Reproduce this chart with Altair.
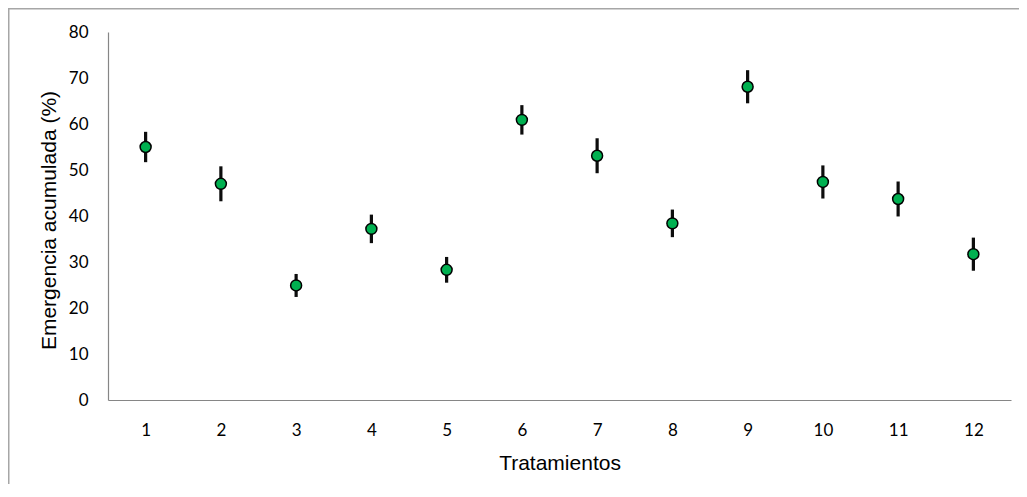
import altair as alt
import pandas as pd

tratamientos = ["1", "2", "3", "4", "5", "6", "7", "8", "9", "10", "11", "12"]
emergencia = [55.0, 47.0, 24.9, 37.2, 28.3, 60.9, 53.1, 38.4, 68.1, 47.4, 43.7, 31.7]
error = [3.3, 3.8, 2.5, 3.1, 2.8, 3.2, 3.8, 3.0, 3.6, 3.6, 3.8, 3.6]
y_ticks = [0, 10, 20, 30, 40, 50, 60, 70, 80]

df = pd.DataFrame({"trat": tratamientos, "emer": emergencia, "err": error})
df["low"] = df["emer"] - df["err"]
df["high"] = df["emer"] + df["err"]

W, H = 903, 368

xenc = alt.X(
    "trat:N",
    sort=tratamientos,
    scale=alt.Scale(type="point", padding=0.5),
    axis=alt.Axis(
        title="Tratamientos",
        labelAngle=0,
        ticks=False,
        grid=False,
        domainColor="#868686",
        domainWidth=1.2,
        labelFont="Lato",
        labelFontSize=17,
        labelColor="#000000",
        labelPadding=22,
        titleFont="Liberation Sans",
        titleFontSize=21,
        titleFontWeight="normal",
        titleColor="#000000",
        titleX=W / 2,
        titleY=63,
        titleAlign="center",
        titleBaseline="middle",
    ),
)

yscale = alt.Scale(domain=[0, 80], nice=False)
yaxis = alt.Axis(
    title="Emergencia acumulada (%)",
    values=y_ticks,
    ticks=False,
    grid=False,
    domainColor="#868686",
    domainWidth=1.2,
    labelFont="Lato",
    labelFontSize=17,
    labelColor="#000000",
    labelPadding=20,
    titleFont="Liberation Sans",
    titleFontSize=21,
    titleFontWeight="normal",
    titleColor="#000000",
    titleX=-59,
    titleY=H / 2 + 4,
    titleAngle=270,
    titleAlign="center",
    titleBaseline="middle",
)

base = alt.Chart(df)

bars = base.mark_rule(color="#0d0d0d", strokeWidth=3.2).encode(
    x=xenc,
    y=alt.Y("low:Q", scale=yscale, axis=yaxis),
    y2="high:Q",
)

points = base.mark_point(
    shape="circle", filled=True, fill="#00B050", stroke="#000000",
    strokeWidth=1.5, size=120, opacity=1,
).encode(
    x=xenc,
    y=alt.Y("emer:Q", scale=yscale, axis=yaxis),
)

border = alt.Chart(pd.DataFrame({"b": [0]})).mark_rect(
    fill="transparent", stroke="#a6a6a6", strokeWidth=2
).encode(
    x=alt.value(-99.5),
    x2=alt.value(W + 150),
    y=alt.value(-23.5),
    y2=alt.value(H + 200),
)

chart = alt.layer(border, bars, points).properties(
    width=W,
    height=H,
    autosize=alt.AutoSizeParams(type="none"),
    padding={"left": 100, "top": 24, "right": 8, "bottom": 84},
    background="white",
).configure_view(strokeWidth=0)

chart.save("out.html", embed_options={"renderer": "svg", "actions": False})
